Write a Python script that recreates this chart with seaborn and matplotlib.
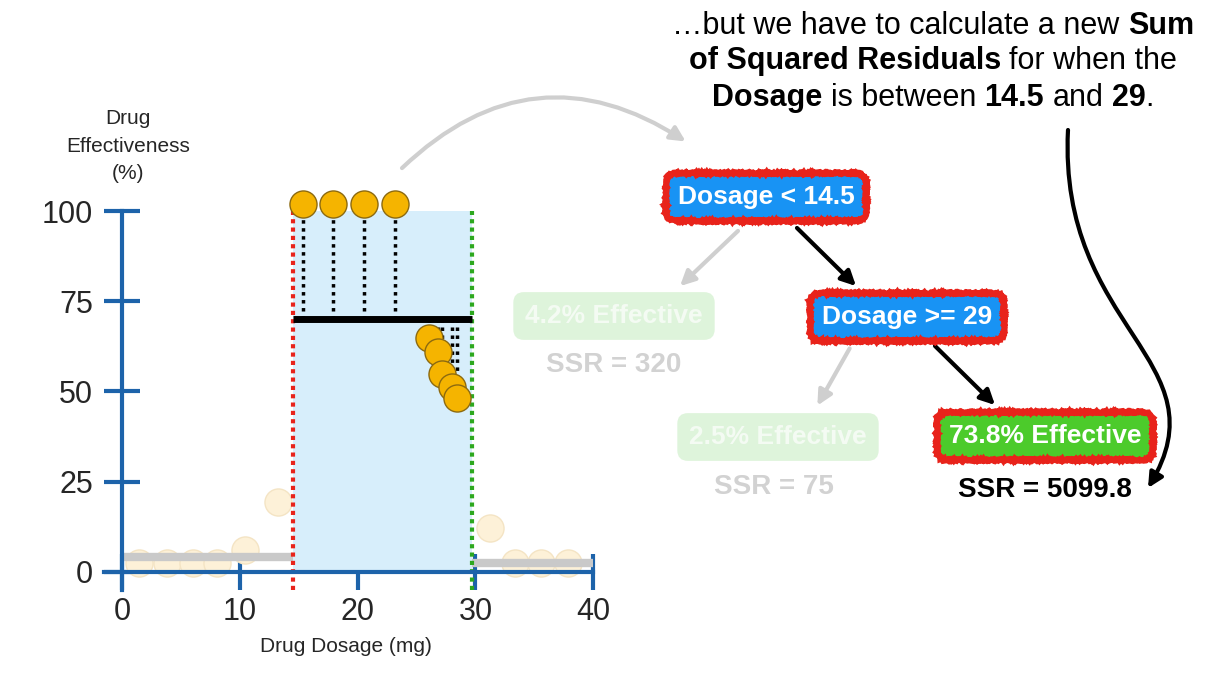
import numpy as np
import pandas as pd
import matplotlib
matplotlib.use('Agg')
import matplotlib.pyplot as plt
import seaborn as sns
from matplotlib.patches import FancyArrowPatch
from matplotlib.path import Path

# ---- data ----
in_dosage = [15.4, 17.9, 20.5, 23.2, 26.1, 26.8, 27.2, 28.0, 28.4]
in_effect = [102, 102, 102, 102, 64.8, 60.9, 54.8, 51.2, 48.2]
out_dosage = [1.4, 3.8, 6.0, 8.1, 10.4, 13.2, 31.2, 33.4, 35.6, 37.9]
out_effect = [2.5, 2.5, 2.5, 2.5, 6.1, 19.4, 12.2, 2.5, 2.5, 2.5]
split_low = 14.5
split_high = 29.7
mean_left = 4.2
mean_mid = 70.0
mean_right = 2.5
x_ticks = [0, 10, 20, 30, 40]
y_ticks = [0, 25, 50, 75, 100]

W, H = 1219, 674
AXIS_BLUE = '#1d63aa'
ORANGE = '#f5b400'

sns.set_style('white')
plt.rcParams['font.family'] = ['Liberation Sans', 'DejaVu Sans']

fig = plt.figure(figsize=(W / 100, H / 100), dpi=100)
ax = fig.add_axes([0.0711, 0.1085, 0.4252, 0.632])
ax.set_xlim(-3, 41)
ax.set_ylim(-8, 110)


def fp(x, y):
    return (x / W, 1 - y / H)


# shaded region between the two splits
ax.fill_between([split_low, split_high], 0, 100, color='#d7eefb', lw=0, zorder=1)

# faded points outside the region
out_df = pd.DataFrame({'dosage': out_dosage, 'effect': out_effect})
sns.scatterplot(data=out_df, x='dosage', y='effect', ax=ax, s=380,
                color='#fdf1d8', edgecolor='#f4e4c4', linewidth=1, zorder=2)

# gray mean lines of the other leaves
ax.plot([0, split_low], [mean_left, mean_left], color='#c9c9c9', lw=6,
        solid_capstyle='butt', zorder=3)
ax.plot([split_high, 40], [mean_right, mean_right], color='#c9c9c9', lw=6,
        solid_capstyle='butt', zorder=3)

# split lines
ax.plot([split_low, split_low], [-5, 100], color='#e8231b', lw=3,
        ls=(0, (1, 1)), zorder=4)
ax.plot([split_high, split_high], [-5, 100], color='#2da81f', lw=3,
        ls=(0, (1, 1)), zorder=4)

# residuals
for xd, yd in zip(in_dosage, in_effect):
    ax.plot([xd, xd], [mean_mid, yd], color='black', lw=2.5,
            ls=(0, (1, 1.3)), zorder=5)

# mean of the middle region
ax.plot([split_low, split_high], [mean_mid, mean_mid], color='black', lw=5,
        solid_capstyle='butt', zorder=6)

in_df = pd.DataFrame({'dosage': in_dosage, 'effect': in_effect})
sns.scatterplot(data=in_df, x='dosage', y='effect', ax=ax, s=380,
                color=ORANGE, edgecolor='#8c6a10', linewidth=1, zorder=7)

# axes styled like the slide
for side in ['top', 'right']:
    ax.spines[side].set_visible(False)
ax.spines['left'].set_position(('data', 0))
ax.spines['bottom'].set_position(('data', 0))
ax.spines['left'].set_bounds(-5, 100)
ax.spines['bottom'].set_bounds(-1.5, 40)
for side in ['left', 'bottom']:
    ax.spines[side].set_color(AXIS_BLUE)
    ax.spines[side].set_linewidth(3)
    ax.spines[side].set_zorder(8)
ax.set_xticks(x_ticks)
ax.set_yticks(y_ticks)
ax.tick_params(bottom=True, left=True, direction='inout', length=26,
               width=3, color=AXIS_BLUE, labelsize=22)
ax.tick_params(axis='x', pad=5)
ax.tick_params(axis='y', pad=8)
for t in ax.xaxis.get_major_ticks() + ax.yaxis.get_major_ticks():
    t.tick1line.set_zorder(8)
ax.set_xlabel('Drug Dosage (mg)', fontsize=15, labelpad=7)
ax.set_ylabel('')
ax.patch.set_alpha(0)
fig.text(*fp(128, 146), 'Drug\nEffectiveness\n(%)', fontsize=15,
         ha='center', va='center', linespacing=1.55)

# ---- tree ----
narrow = ['Liberation Sans Narrow', 'Liberation Sans', 'DejaVu Sans']


def node(cx, cy, label, face, edge, tcolor, sketch=True):
    bbox = dict(boxstyle='round,pad=0.45,rounding_size=0.4', fc=face,
                ec=edge, lw=4.5 if sketch else 0)
    t = fig.text(*fp(cx, cy), label, ha='center', va='center', fontsize=19,
                 fontweight='bold', color=tcolor, family=narrow, bbox=bbox)
    if sketch:
        t.get_bbox_patch().set_sketch_params(0.8, 1.5, 2)
    return t


node(766, 197, 'Dosage < 14.5', '#1893f4', '#e8231b', 'white')
node(907, 317, 'Dosage >= 29', '#1893f4', '#e8231b', 'white')
node(614, 316, '4.2% Effective', '#def4db', 'none', '#f4fbf3', sketch=False)
node(778, 437, '2.5% Effective', '#def4db', 'none', '#f4fbf3', sketch=False)
node(1045, 436, '73.8% Effective', '#4ccb2b', '#e8231b', 'white')

fig.text(*fp(614, 365), 'SSR = 320', ha='center', va='center', fontsize=20,
         fontweight='bold', color='#d2d2d2', family=narrow)
fig.text(*fp(774, 487), 'SSR = 75', ha='center', va='center', fontsize=20,
         fontweight='bold', color='#d2d2d2', family=narrow)
fig.text(*fp(1045, 490), 'SSR = 5099.8', ha='center', va='center',
         fontsize=20, fontweight='bold', color='black', family=narrow)


def arrow(a, b, color, **kw):
    p = FancyArrowPatch(fp(*a), fp(*b), transform=fig.transFigure,
                        arrowstyle='-|>', mutation_scale=22, lw=3,
                        color=color, **kw)
    fig.add_artist(p)


arrow((795, 226), (858, 288), 'black')
arrow((933, 344), (997, 407), 'black')
arrow((740, 229), (678, 288), '#cfcfcf')
arrow((851, 346), (816, 408), '#cfcfcf')
arrow((400, 170), (688, 143), '#cfcfcf', connectionstyle='arc3,rad=-0.4')

verts = [fp(1068, 130), fp(1058, 330), fp(1225, 360), fp(1148, 488)]
s_curve = FancyArrowPatch(path=Path(verts, [Path.MOVETO, Path.CURVE4,
                                            Path.CURVE4, Path.CURVE4]),
                          transform=fig.transFigure, arrowstyle='-|>',
                          mutation_scale=22, lw=3, color='black')
fig.add_artist(s_curve)

# ---- headline with mixed weights ----
lines = [
    (26, [('…but we have to calculate a new', 'normal'), ('Sum', 'bold')]),
    (61, [('of Squared Residuals', 'bold'), ('for when the', 'normal')]),
    (98, [('Dosage', 'bold'), ('is between', 'normal'), ('14.5', 'bold'),
          ('and', 'normal'), ('29', 'bold'), ('.', 'normal')]),
]
HEAD_SIZE = 22
renderer = fig.canvas.get_renderer()
probe = fig.text(0, 0, 'a a', fontsize=HEAD_SIZE)
w_two = probe.get_window_extent(renderer).width
probe.set_text('aa')
space_w = w_two - probe.get_window_extent(renderer).width
probe.remove()

for y_px, segs in lines:
    parts = []
    for i, (s, w) in enumerate(segs):
        t = fig.text(0, 0, s, fontsize=HEAD_SIZE, fontweight=w, ha='left',
                     va='center', color='black')
        gap = 0 if (i == 0 or s == '.') else space_w
        parts.append((t, t.get_window_extent(renderer).width, gap))
    total = sum(wd + g for _, wd, g in parts)
    x = 933 - total / 2
    for t, wd, g in parts:
        x += g
        t.set_position(fp(x, y_px))
        x += wd

fig.savefig('out.png', dpi=100)
